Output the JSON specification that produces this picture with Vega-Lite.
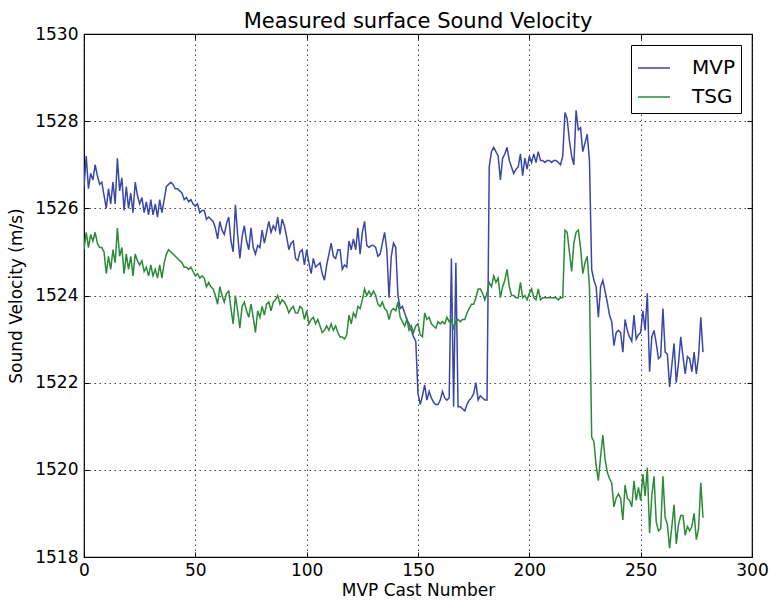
{
  "$schema": "https://vega.github.io/schema/vega-lite/v6.json",
  "width": 668,
  "height": 523,
  "autosize": {"type": "none"},
  "padding": {"left": 84, "top": 34, "right": 18, "bottom": 43},
  "background": "white",
  "title": {
    "text": "Measured surface Sound Velocity",
    "font": "DejaVu Sans",
    "fontSize": 21,
    "fontWeight": "normal",
    "color": "black",
    "anchor": "middle",
    "offset": -7
  },
  "data": {
    "values": [
      {"cast": 0, "MVP": 1526.5, "TSG": 1525.05},
      {"cast": 1, "MVP": 1527.2, "TSG": 1525.45},
      {"cast": 2, "MVP": 1526.45, "TSG": 1525.1},
      {"cast": 3, "MVP": 1526.8, "TSG": 1525.4},
      {"cast": 4, "MVP": 1526.65, "TSG": 1525.25},
      {"cast": 5, "MVP": 1527.0, "TSG": 1525.45},
      {"cast": 6, "MVP": 1526.75, "TSG": 1525.2},
      {"cast": 7, "MVP": 1526.55, "TSG": 1525.1},
      {"cast": 8, "MVP": 1526.6, "TSG": 1525.1},
      {"cast": 9, "MVP": 1526.3, "TSG": 1525.0},
      {"cast": 10, "MVP": 1526.0, "TSG": 1524.5},
      {"cast": 11, "MVP": 1526.45, "TSG": 1524.9},
      {"cast": 12, "MVP": 1526.1, "TSG": 1524.6},
      {"cast": 13, "MVP": 1526.6, "TSG": 1525.05},
      {"cast": 14, "MVP": 1526.1, "TSG": 1524.75},
      {"cast": 15, "MVP": 1527.15, "TSG": 1525.55},
      {"cast": 16, "MVP": 1526.4, "TSG": 1524.9},
      {"cast": 17, "MVP": 1526.7, "TSG": 1525.1},
      {"cast": 18, "MVP": 1525.95, "TSG": 1524.5},
      {"cast": 19, "MVP": 1526.5, "TSG": 1524.95},
      {"cast": 20, "MVP": 1526.0, "TSG": 1524.6},
      {"cast": 21, "MVP": 1526.35, "TSG": 1524.9},
      {"cast": 22, "MVP": 1525.9, "TSG": 1524.45},
      {"cast": 23, "MVP": 1526.6, "TSG": 1524.95},
      {"cast": 24, "MVP": 1526.3, "TSG": 1524.8},
      {"cast": 25, "MVP": 1526.1, "TSG": 1524.7},
      {"cast": 26, "MVP": 1526.25, "TSG": 1524.8},
      {"cast": 27, "MVP": 1525.9, "TSG": 1524.55},
      {"cast": 28, "MVP": 1526.15, "TSG": 1524.65},
      {"cast": 29, "MVP": 1525.85, "TSG": 1524.45},
      {"cast": 30, "MVP": 1526.2, "TSG": 1524.7},
      {"cast": 31, "MVP": 1525.85, "TSG": 1524.45},
      {"cast": 32, "MVP": 1526.1, "TSG": 1524.6},
      {"cast": 33, "MVP": 1525.8, "TSG": 1524.4},
      {"cast": 34, "MVP": 1526.2, "TSG": 1524.7},
      {"cast": 35, "MVP": 1525.9, "TSG": 1524.4},
      {"cast": 36, "MVP": 1526.2, "TSG": 1524.75},
      {"cast": 37, "MVP": 1526.5, "TSG": 1524.95},
      {"cast": 38, "MVP": 1526.55, "TSG": 1525.05},
      {"cast": 39, "MVP": 1526.6, "TSG": 1525.0},
      {"cast": 40, "MVP": 1526.55, "TSG": 1524.95},
      {"cast": 41, "MVP": 1526.45, "TSG": 1524.9},
      {"cast": 42, "MVP": 1526.45, "TSG": 1524.85},
      {"cast": 43, "MVP": 1526.4, "TSG": 1524.8},
      {"cast": 44, "MVP": 1526.35, "TSG": 1524.75},
      {"cast": 45, "MVP": 1526.2, "TSG": 1524.65},
      {"cast": 46, "MVP": 1526.25, "TSG": 1524.65},
      {"cast": 47, "MVP": 1526.15, "TSG": 1524.6},
      {"cast": 48, "MVP": 1526.2, "TSG": 1524.65},
      {"cast": 49, "MVP": 1526.1, "TSG": 1524.55},
      {"cast": 50, "MVP": 1526.05, "TSG": 1524.45},
      {"cast": 51, "MVP": 1526.1, "TSG": 1524.5},
      {"cast": 52, "MVP": 1525.9, "TSG": 1524.4},
      {"cast": 53, "MVP": 1525.95, "TSG": 1524.45},
      {"cast": 54, "MVP": 1525.95, "TSG": 1524.4},
      {"cast": 55, "MVP": 1525.75, "TSG": 1524.2},
      {"cast": 56, "MVP": 1525.8, "TSG": 1524.3},
      {"cast": 57, "MVP": 1525.75, "TSG": 1524.2},
      {"cast": 58, "MVP": 1525.7, "TSG": 1524.15},
      {"cast": 59, "MVP": 1525.55, "TSG": 1524.0},
      {"cast": 60, "MVP": 1525.3, "TSG": 1523.8},
      {"cast": 61, "MVP": 1525.7, "TSG": 1524.2},
      {"cast": 62, "MVP": 1525.5, "TSG": 1524.0},
      {"cast": 63, "MVP": 1525.4, "TSG": 1523.85},
      {"cast": 64, "MVP": 1525.65, "TSG": 1524.05},
      {"cast": 65, "MVP": 1525.8, "TSG": 1524.1},
      {"cast": 66, "MVP": 1525.25, "TSG": 1523.7},
      {"cast": 67, "MVP": 1525.0, "TSG": 1523.35},
      {"cast": 68, "MVP": 1526.08, "TSG": 1524.0},
      {"cast": 69, "MVP": 1525.4, "TSG": 1523.65},
      {"cast": 70, "MVP": 1524.85, "TSG": 1523.25},
      {"cast": 71, "MVP": 1525.35, "TSG": 1523.75},
      {"cast": 72, "MVP": 1525.6, "TSG": 1523.85},
      {"cast": 73, "MVP": 1525.25, "TSG": 1523.65},
      {"cast": 74, "MVP": 1525.05, "TSG": 1523.5},
      {"cast": 75, "MVP": 1525.55, "TSG": 1523.8},
      {"cast": 76, "MVP": 1525.1, "TSG": 1523.5},
      {"cast": 77, "MVP": 1524.95, "TSG": 1523.15},
      {"cast": 78, "MVP": 1525.15, "TSG": 1523.65},
      {"cast": 79, "MVP": 1525.1, "TSG": 1523.5},
      {"cast": 80, "MVP": 1525.5, "TSG": 1523.75},
      {"cast": 81, "MVP": 1525.2, "TSG": 1523.55},
      {"cast": 82, "MVP": 1525.45, "TSG": 1523.8},
      {"cast": 83, "MVP": 1525.7, "TSG": 1523.85},
      {"cast": 84, "MVP": 1525.45, "TSG": 1523.65},
      {"cast": 85, "MVP": 1525.6, "TSG": 1523.85},
      {"cast": 86, "MVP": 1525.5, "TSG": 1523.9},
      {"cast": 87, "MVP": 1525.8, "TSG": 1524.0},
      {"cast": 88, "MVP": 1525.4, "TSG": 1523.8},
      {"cast": 89, "MVP": 1525.75, "TSG": 1523.9},
      {"cast": 90, "MVP": 1525.6, "TSG": 1523.85},
      {"cast": 91, "MVP": 1525.35, "TSG": 1523.75},
      {"cast": 92, "MVP": 1525.05, "TSG": 1523.6},
      {"cast": 93, "MVP": 1525.2, "TSG": 1523.7},
      {"cast": 94, "MVP": 1525.25, "TSG": 1523.75},
      {"cast": 95, "MVP": 1524.85, "TSG": 1523.6},
      {"cast": 96, "MVP": 1524.8, "TSG": 1523.6},
      {"cast": 97, "MVP": 1525.0, "TSG": 1523.75},
      {"cast": 98, "MVP": 1525.05, "TSG": 1523.7},
      {"cast": 99, "MVP": 1524.7, "TSG": 1523.45},
      {"cast": 100, "MVP": 1525.05, "TSG": 1523.65},
      {"cast": 101, "MVP": 1524.75, "TSG": 1523.35},
      {"cast": 102, "MVP": 1524.5, "TSG": 1523.45},
      {"cast": 103, "MVP": 1524.85, "TSG": 1523.5},
      {"cast": 104, "MVP": 1524.65, "TSG": 1523.35},
      {"cast": 105, "MVP": 1524.7, "TSG": 1523.45},
      {"cast": 106, "MVP": 1524.75, "TSG": 1523.3},
      {"cast": 107, "MVP": 1524.5, "TSG": 1523.15},
      {"cast": 108, "MVP": 1524.35, "TSG": 1523.2},
      {"cast": 109, "MVP": 1524.7, "TSG": 1523.3},
      {"cast": 110, "MVP": 1524.95, "TSG": 1523.2},
      {"cast": 111, "MVP": 1525.2, "TSG": 1523.35},
      {"cast": 112, "MVP": 1524.9, "TSG": 1523.2},
      {"cast": 113, "MVP": 1524.85, "TSG": 1523.3},
      {"cast": 114, "MVP": 1525.05, "TSG": 1523.15},
      {"cast": 115, "MVP": 1525.05, "TSG": 1523.05},
      {"cast": 116, "MVP": 1524.6, "TSG": 1523.05},
      {"cast": 117, "MVP": 1524.7, "TSG": 1523.0},
      {"cast": 118, "MVP": 1524.65, "TSG": 1523.1},
      {"cast": 119, "MVP": 1525.25, "TSG": 1523.55},
      {"cast": 120, "MVP": 1525.05, "TSG": 1523.35},
      {"cast": 121, "MVP": 1525.3, "TSG": 1523.6},
      {"cast": 122, "MVP": 1525.05, "TSG": 1523.5},
      {"cast": 123, "MVP": 1525.55, "TSG": 1523.75},
      {"cast": 124, "MVP": 1524.95, "TSG": 1523.7},
      {"cast": 125, "MVP": 1525.45, "TSG": 1523.9},
      {"cast": 126, "MVP": 1525.7, "TSG": 1524.15},
      {"cast": 127, "MVP": 1525.15, "TSG": 1524.0},
      {"cast": 128, "MVP": 1525.1, "TSG": 1524.1},
      {"cast": 129, "MVP": 1525.15, "TSG": 1524.0},
      {"cast": 130, "MVP": 1525.15, "TSG": 1524.1},
      {"cast": 131, "MVP": 1525.1, "TSG": 1524.0},
      {"cast": 132, "MVP": 1524.9, "TSG": 1523.8},
      {"cast": 133, "MVP": 1524.95, "TSG": 1523.75},
      {"cast": 134, "MVP": 1525.2, "TSG": 1523.85},
      {"cast": 135, "MVP": 1525.45, "TSG": 1523.7},
      {"cast": 136, "MVP": 1525.05, "TSG": 1523.65},
      {"cast": 137, "MVP": 1523.95, "TSG": 1523.45},
      {"cast": 138, "MVP": 1524.9, "TSG": 1523.65},
      {"cast": 139, "MVP": 1525.2, "TSG": 1523.7},
      {"cast": 140, "MVP": 1525.1, "TSG": 1523.65},
      {"cast": 141, "MVP": 1524.0, "TSG": 1523.85},
      {"cast": 142, "MVP": 1523.7, "TSG": 1523.5},
      {"cast": 143, "MVP": 1523.75, "TSG": 1523.4},
      {"cast": 144, "MVP": 1523.6, "TSG": 1523.3},
      {"cast": 145, "MVP": 1523.45, "TSG": 1523.45},
      {"cast": 146, "MVP": 1523.35, "TSG": 1523.2},
      {"cast": 147, "MVP": 1523.2, "TSG": 1523.3},
      {"cast": 148, "MVP": 1523.05, "TSG": 1523.15},
      {"cast": 149, "MVP": 1522.95, "TSG": 1523.3},
      {"cast": 150, "MVP": 1521.75, "TSG": 1523.35},
      {"cast": 151, "MVP": 1521.5, "TSG": 1523.1},
      {"cast": 152, "MVP": 1521.7, "TSG": 1523.05},
      {"cast": 153, "MVP": 1521.95, "TSG": 1523.6},
      {"cast": 154, "MVP": 1521.6, "TSG": 1523.45},
      {"cast": 155, "MVP": 1521.8, "TSG": 1523.5},
      {"cast": 156, "MVP": 1521.65, "TSG": 1523.35},
      {"cast": 157, "MVP": 1521.55, "TSG": 1523.3},
      {"cast": 158, "MVP": 1521.5, "TSG": 1523.25},
      {"cast": 159, "MVP": 1521.5, "TSG": 1523.4},
      {"cast": 160, "MVP": 1521.6, "TSG": 1523.35},
      {"cast": 161, "MVP": 1521.8, "TSG": 1523.4},
      {"cast": 162, "MVP": 1521.65, "TSG": 1523.35},
      {"cast": 163, "MVP": 1521.6, "TSG": 1523.5},
      {"cast": 164, "MVP": 1521.65, "TSG": 1523.4},
      {"cast": 165, "MVP": 1524.85, "TSG": 1523.45},
      {"cast": 166, "MVP": 1521.45, "TSG": 1523.25},
      {"cast": 167, "MVP": 1524.75, "TSG": 1523.4},
      {"cast": 168, "MVP": 1521.45, "TSG": 1523.45},
      {"cast": 169, "MVP": 1521.45, "TSG": 1523.4},
      {"cast": 170, "MVP": 1521.4, "TSG": 1523.45},
      {"cast": 171, "MVP": 1521.35, "TSG": 1523.45},
      {"cast": 172, "MVP": 1521.5, "TSG": 1523.6},
      {"cast": 173, "MVP": 1521.6, "TSG": 1523.7},
      {"cast": 174, "MVP": 1521.65, "TSG": 1523.8},
      {"cast": 175, "MVP": 1521.75, "TSG": 1523.8},
      {"cast": 176, "MVP": 1522.0, "TSG": 1523.95},
      {"cast": 177, "MVP": 1521.6, "TSG": 1524.15},
      {"cast": 178, "MVP": 1521.7, "TSG": 1524.15},
      {"cast": 179, "MVP": 1521.65, "TSG": 1524.05},
      {"cast": 180, "MVP": 1521.6, "TSG": 1523.9},
      {"cast": 181, "MVP": 1521.6, "TSG": 1524.05},
      {"cast": 182, "MVP": 1526.95, "TSG": 1524.3},
      {"cast": 183, "MVP": 1527.3, "TSG": 1524.2},
      {"cast": 184, "MVP": 1527.4, "TSG": 1524.45},
      {"cast": 185, "MVP": 1527.3, "TSG": 1524.3},
      {"cast": 186, "MVP": 1527.2, "TSG": 1524.4},
      {"cast": 187, "MVP": 1526.65, "TSG": 1523.95},
      {"cast": 188, "MVP": 1527.15, "TSG": 1524.2},
      {"cast": 189, "MVP": 1527.25, "TSG": 1524.35},
      {"cast": 190, "MVP": 1527.4, "TSG": 1524.6},
      {"cast": 191, "MVP": 1527.1, "TSG": 1524.2},
      {"cast": 192, "MVP": 1526.95, "TSG": 1524.0},
      {"cast": 193, "MVP": 1526.8, "TSG": 1524.0},
      {"cast": 194, "MVP": 1526.9, "TSG": 1523.95},
      {"cast": 195, "MVP": 1526.95, "TSG": 1523.95},
      {"cast": 196, "MVP": 1527.25, "TSG": 1524.3},
      {"cast": 197, "MVP": 1526.75, "TSG": 1523.95},
      {"cast": 198, "MVP": 1527.15, "TSG": 1524.0},
      {"cast": 199, "MVP": 1526.9, "TSG": 1523.9},
      {"cast": 200, "MVP": 1527.2, "TSG": 1524.05},
      {"cast": 201, "MVP": 1527.05, "TSG": 1524.15},
      {"cast": 202, "MVP": 1527.25, "TSG": 1523.95},
      {"cast": 203, "MVP": 1527.05, "TSG": 1523.9},
      {"cast": 204, "MVP": 1527.3, "TSG": 1524.15},
      {"cast": 205, "MVP": 1527.1, "TSG": 1523.9},
      {"cast": 206, "MVP": 1527.1, "TSG": 1523.95},
      {"cast": 207, "MVP": 1527.05, "TSG": 1523.95},
      {"cast": 208, "MVP": 1527.1, "TSG": 1523.95},
      {"cast": 209, "MVP": 1527.1, "TSG": 1523.95},
      {"cast": 210, "MVP": 1527.05, "TSG": 1523.95},
      {"cast": 211, "MVP": 1527.1, "TSG": 1523.95},
      {"cast": 212, "MVP": 1527.1, "TSG": 1523.95},
      {"cast": 213, "MVP": 1527.05, "TSG": 1523.9},
      {"cast": 214, "MVP": 1527.0, "TSG": 1523.95},
      {"cast": 215, "MVP": 1527.2, "TSG": 1523.95},
      {"cast": 216, "MVP": 1528.2, "TSG": 1525.5},
      {"cast": 217, "MVP": 1528.05, "TSG": 1525.45},
      {"cast": 218, "MVP": 1527.55, "TSG": 1525.0},
      {"cast": 219, "MVP": 1527.2, "TSG": 1524.55},
      {"cast": 220, "MVP": 1527.0, "TSG": 1525.2},
      {"cast": 221, "MVP": 1528.25, "TSG": 1525.45},
      {"cast": 222, "MVP": 1527.8, "TSG": 1525.5},
      {"cast": 223, "MVP": 1527.85, "TSG": 1525.1},
      {"cast": 224, "MVP": 1527.3, "TSG": 1524.5},
      {"cast": 225, "MVP": 1527.5, "TSG": 1524.75},
      {"cast": 226, "MVP": 1527.7, "TSG": 1524.9},
      {"cast": 227, "MVP": 1527.1, "TSG": 1524.2},
      {"cast": 228, "MVP": 1524.6, "TSG": 1520.75},
      {"cast": 229, "MVP": 1524.35, "TSG": 1520.65},
      {"cast": 230, "MVP": 1524.2, "TSG": 1520.1},
      {"cast": 231, "MVP": 1523.5, "TSG": 1519.75},
      {"cast": 232, "MVP": 1524.2, "TSG": 1520.3},
      {"cast": 233, "MVP": 1524.35, "TSG": 1520.8},
      {"cast": 234, "MVP": 1524.1, "TSG": 1520.25},
      {"cast": 235, "MVP": 1523.85, "TSG": 1519.95},
      {"cast": 236, "MVP": 1523.55, "TSG": 1519.8},
      {"cast": 237, "MVP": 1523.4, "TSG": 1519.7},
      {"cast": 238, "MVP": 1522.85, "TSG": 1519.15},
      {"cast": 239, "MVP": 1523.15, "TSG": 1519.35},
      {"cast": 240, "MVP": 1523.2, "TSG": 1519.45},
      {"cast": 241, "MVP": 1523.15, "TSG": 1519.35},
      {"cast": 242, "MVP": 1522.7, "TSG": 1518.85},
      {"cast": 243, "MVP": 1523.45, "TSG": 1519.65},
      {"cast": 244, "MVP": 1523.2, "TSG": 1519.35},
      {"cast": 245, "MVP": 1523.05, "TSG": 1519.3},
      {"cast": 246, "MVP": 1522.95, "TSG": 1519.15},
      {"cast": 247, "MVP": 1523.55, "TSG": 1519.75},
      {"cast": 248, "MVP": 1523.0, "TSG": 1519.3},
      {"cast": 249, "MVP": 1523.1, "TSG": 1519.6},
      {"cast": 250, "MVP": 1523.15, "TSG": 1519.3},
      {"cast": 251, "MVP": 1523.65, "TSG": 1519.9},
      {"cast": 252, "MVP": 1523.2, "TSG": 1519.4},
      {"cast": 253, "MVP": 1524.05, "TSG": 1520.05},
      {"cast": 254, "MVP": 1522.25, "TSG": 1518.55},
      {"cast": 255, "MVP": 1523.05, "TSG": 1519.4},
      {"cast": 256, "MVP": 1523.2, "TSG": 1519.85},
      {"cast": 257, "MVP": 1522.9, "TSG": 1518.8},
      {"cast": 258, "MVP": 1522.55, "TSG": 1518.6},
      {"cast": 259, "MVP": 1522.6, "TSG": 1518.65},
      {"cast": 260, "MVP": 1523.7, "TSG": 1519.85},
      {"cast": 261, "MVP": 1522.7, "TSG": 1518.9},
      {"cast": 262, "MVP": 1522.65, "TSG": 1518.75},
      {"cast": 263, "MVP": 1521.9, "TSG": 1518.2},
      {"cast": 264, "MVP": 1522.4, "TSG": 1518.7},
      {"cast": 265, "MVP": 1522.9, "TSG": 1519.2},
      {"cast": 266, "MVP": 1522.0, "TSG": 1518.3},
      {"cast": 267, "MVP": 1522.45, "TSG": 1518.75},
      {"cast": 268, "MVP": 1523.05, "TSG": 1518.95},
      {"cast": 269, "MVP": 1522.6, "TSG": 1518.95},
      {"cast": 270, "MVP": 1522.2, "TSG": 1518.5},
      {"cast": 271, "MVP": 1522.6, "TSG": 1518.7},
      {"cast": 272, "MVP": 1522.55, "TSG": 1518.6},
      {"cast": 273, "MVP": 1522.25, "TSG": 1518.7},
      {"cast": 274, "MVP": 1522.7, "TSG": 1519.0},
      {"cast": 275, "MVP": 1522.2, "TSG": 1518.4},
      {"cast": 276, "MVP": 1522.6, "TSG": 1518.65},
      {"cast": 277, "MVP": 1523.5, "TSG": 1519.7},
      {"cast": 278, "MVP": 1522.7, "TSG": 1518.9}
    ]
  },
  "transform": [
    {"fold": ["MVP", "TSG"], "as": ["series", "velocity"]}
  ],
  "layer": [
    {
      "mark": {"type": "line", "strokeWidth": 1.5, "clip": true},
      "encoding": {
        "x": {
          "field": "cast",
          "type": "quantitative",
          "scale": {"domain": [0, 300], "nice": false, "zero": false},
          "axis": {
            "orient": "bottom",
            "values": [0, 50, 100, 150, 200, 250, 300],
            "title": "MVP Cast Number",
            "titlePadding": 4,
            "labelPadding": 10,
            "labelFlush": false,
            "grid": true
          }
        },
        "y": {
          "field": "velocity",
          "type": "quantitative",
          "scale": {"domain": [1518, 1530], "nice": false, "zero": false},
          "axis": {
            "orient": "left",
            "values": [1518, 1520, 1522, 1524, 1526, 1528, 1530],
            "format": "d",
            "title": "Sound Velocity (m/s)",
            "titlePadding": 9,
            "labelPadding": 11,
            "labelFlush": false,
            "grid": true
          }
        },
        "color": {
          "field": "series",
          "type": "nominal",
          "scale": {"domain": ["MVP", "TSG"], "range": ["#3b47a6", "#2b8a3a"]},
          "legend": {
            "title": null,
            "orient": "top-right",
            "offset": 11,
            "strokeColor": "black",
            "fillColor": "white",
            "padding": 6,
            "cornerRadius": 0,
            "symbolType": "stroke",
            "symbolSize": 1024,
            "symbolStrokeWidth": 1.5,
            "labelFont": "DejaVu Sans",
            "labelFontSize": 20,
            "labelColor": "black",
            "labelOffset": 21,
            "rowPadding": 2
          }
        }
      }
    },
    {
      "mark": {"type": "line", "opacity": 0},
      "encoding": {
        "x": {
          "field": "cast",
          "type": "quantitative",
          "scale": {"domain": [0, 300], "nice": false, "zero": false},
          "axis": {
            "orient": "top",
            "values": [0, 50, 100, 150, 200, 250, 300],
            "labels": false,
            "title": null,
            "grid": false
          }
        },
        "y": {
          "field": "velocity",
          "type": "quantitative",
          "scale": {"domain": [1518, 1530], "nice": false, "zero": false},
          "axis": {
            "orient": "right",
            "values": [1518, 1520, 1522, 1524, 1526, 1528, 1530],
            "labels": false,
            "title": null,
            "grid": false
          }
        },
        "detail": {"field": "series"}
      }
    }
  ],
  "resolve": {"axis": {"x": "independent", "y": "independent"}},
  "config": {
    "font": "DejaVu Sans",
    "view": {"stroke": "black", "strokeWidth": 1.2},
    "axis": {
      "domain": false,
      "ticks": true,
      "tickSize": -5,
      "tickColor": "black",
      "tickWidth": 1,
      "labelFont": "DejaVu Sans",
      "labelFontSize": 17,
      "labelColor": "black",
      "titleFont": "DejaVu Sans",
      "titleFontSize": 17,
      "titleFontWeight": "normal",
      "titleColor": "black",
      "gridColor": "black",
      "gridDash": [1.5, 3.5],
      "gridWidth": 1,
      "gridOpacity": 0.75
    }
  }
}
